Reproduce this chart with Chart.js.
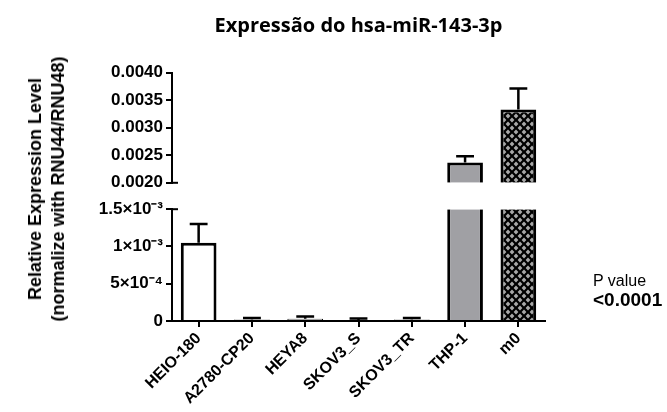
<!DOCTYPE html>
<html>
<head>
<meta charset="utf-8">
<script src="https://cdn.jsdelivr.net/npm/chart.js@4.4.1/dist/chart.umd.min.js"></script>
<style>
  body { margin: 0; background: #fff; width: 667px; height: 412px; position: relative; overflow: hidden; font-family: "Liberation Sans", Arial, sans-serif; }
  canvas { position: absolute; left: 0; }
  #chart-top { top: 0; }
  #chart-bottom { top: 196px; }
  #y-title { position: absolute; left: 47px; top: 189px; transform: translate(-50%, -50%) rotate(-90deg);
    font-weight: bold; font-size: 18px; line-height: 23px; text-align: center; white-space: nowrap; color: #000; }
  #p-value { position: absolute; left: 593px; top: 272px; color: #000; white-space: nowrap; }
  #p-value .lbl { font-size: 16px; line-height: 18px; }
  #p-value .val { font-size: 19px; line-height: 20px; font-weight: bold; }
</style>
</head>
<body>
<canvas id="chart-top" width="667" height="196"></canvas>
<canvas id="chart-bottom" width="667" height="216"></canvas>
<div id="y-title">Relative Expression Level<br>(normalize with RNU44/RNU48)</div>
<div id="p-value"><div class="lbl">P value</div><div class="val">&lt;0.0001</div></div>

<script>
const categories = ["HEIO-180", "A2780-CP20", "HEYA8", "SKOV3_S", "SKOV3_TR", "THP-1", "m0"];
const means = [0.00105, 0.00002, 0.00003, 0.000015, 0.00002, 0.00237, 0.00333];
const errors = [0.00025, 0.00002, 0.00003, 0.00002, 0.00002, 0.00011, 0.00038];

// broken y axis: upper and lower segments
const upperRange = [0.002, 0.004];
const upperTicks = [0.002, 0.0025, 0.003, 0.0035, 0.004];
const upperTickLabels = ["0.0020", "0.0025", "0.0030", "0.0035", "0.0040"];
const lowerRange = [0, 0.0015];
const lowerTicks = [0, 0.0005, 0.001, 0.0015];
const lowerTickLabels = ["0", "5×10⁻⁴", "1×10⁻³", "1.5×10⁻³"];

// crosshatch fill for the last bar
function makeHatch() {
  const c = document.createElement("canvas");
  c.width = 8; c.height = 8;
  const g = c.getContext("2d");
  g.fillStyle = "#000";
  g.fillRect(0, 0, 8, 8);
  g.fillStyle = "#a8a8a8";
  [[4, 4], [0, 0], [8, 0], [0, 8], [8, 8]].forEach(([cx, cy]) => {
    g.beginPath();
    g.moveTo(cx, cy - 2.4); g.lineTo(cx + 2.4, cy); g.lineTo(cx, cy + 2.4); g.lineTo(cx - 2.4, cy);
    g.closePath(); g.fill();
  });
  return g.createPattern(c, "repeat");
}
const hatch = makeHatch();
const barFills = ["#ffffff", "#d0d0d0", "#d0d0d0", "#d0d0d0", "#d0d0d0", "#a0a0a4", hatch];

const tickFont = { family: "Liberation Sans", weight: "bold", size: 17 };

// upward error bars, only where the bar top lies inside this segment
const errorBars = {
  id: "errorBars",
  afterDatasetsDraw(chart) {
    const ctx = chart.ctx, y = chart.scales.y, meta = chart.getDatasetMeta(0);
    ctx.save();
    ctx.strokeStyle = "#000";
    ctx.lineWidth = 2.5;
    means.forEach((m, i) => {
      if (m < y.min || m > y.max) return;
      const bar = meta.data[i];
      const top = y.getPixelForValue(m + errors[i]);
      const half = bar.width * 0.25;
      ctx.beginPath();
      ctx.moveTo(bar.x, bar.y); ctx.lineTo(bar.x, top);
      ctx.moveTo(bar.x - half, top); ctx.lineTo(bar.x + half, top);
      ctx.stroke();
    });
    ctx.restore();
  }
};

// small stub to the right at the axis break
const breakStub = {
  id: "breakStub",
  afterDraw(chart, args, opts) {
    const ctx = chart.ctx, a = chart.chartArea;
    const yy = opts.side === "bottom" ? a.bottom : a.top;
    ctx.save();
    ctx.strokeStyle = "#000"; ctx.lineWidth = 2;
    ctx.beginPath(); ctx.moveTo(a.left - 1, yy); ctx.lineTo(a.left + 6, yy); ctx.stroke();
    ctx.restore();
  }
};

function yAxis(range, ticks, labels) {
  return {
    min: range[0],
    max: range[1],
    afterBuildTicks: s => { s.ticks = ticks.map(v => ({ value: v })); },
    afterFit: s => { s.width = 172; },
    border: { display: true, color: "#000", width: 2 },
    grid: { display: true, drawOnChartArea: false, drawTicks: true, tickLength: 6, color: "#000", lineWidth: 2 },
    ticks: { color: "#000", padding: 3, font: tickFont, callback: (v, i) => labels[i] }
  };
}

// upper segment
new Chart(document.getElementById("chart-top"), {
  type: "bar",
  data: {
    labels: categories,
    datasets: [{
      data: means.map(v => (v > upperRange[0] ? [upperRange[0], v] : null)),
      backgroundColor: barFills,
      borderColor: "#000",
      borderWidth: { left: 3, right: 3, top: 3, bottom: 0 },
      borderSkipped: false,
      categoryPercentage: 1,
      barPercentage: 0.67
    }]
  },
  options: {
    responsive: false,
    animation: false,
    layout: { padding: { left: 0, right: 122, top: 0, bottom: 9 } },
    plugins: {
      legend: { display: false },
      tooltip: { enabled: false },
      breakStub: { side: "bottom" },
      title: {
        display: true,
        text: "Expressão do hsa-miR-143-3p",
        fullSize: false,
        color: "#000",
        font: { family: "Open Sans", weight: "bold", size: 20 },
        padding: { top: 14, bottom: 34.6 }
      }
    },
    scales: {
      x: { display: false, offset: true },
      y: yAxis(upperRange, upperTicks, upperTickLabels)
    }
  },
  plugins: [errorBars, breakStub]
});

// lower segment
new Chart(document.getElementById("chart-bottom"), {
  type: "bar",
  data: {
    labels: categories,
    datasets: [{
      data: means.map(v => Math.min(v, lowerRange[1])),
      backgroundColor: barFills,
      borderColor: "#000",
      borderWidth: c => {
        const v = means[c.dataIndex];
        if (v < 0.0001) return { left: 1, right: 1, top: 1, bottom: 0 };
        return v > lowerRange[1] ? { left: 3, right: 3, top: 0, bottom: 0 } : { left: 3, right: 3, top: 3, bottom: 0 };
      },
      borderSkipped: false,
      categoryPercentage: 1,
      barPercentage: 0.67
    }]
  },
  options: {
    responsive: false,
    animation: false,
    layout: { padding: { left: 0, right: 122, top: 9, bottom: 0 } },
    plugins: {
      legend: { display: false },
      tooltip: { enabled: false },
      breakStub: { side: "top" }
    },
    scales: {
      x: {
        offset: true,
        afterFit: s => { s.height = 91; },
        border: { display: true, color: "#000", width: 2 },
        grid: { display: true, offset: false, drawOnChartArea: false, tickLength: 6, color: "#000", lineWidth: 2 },
        ticks: { color: "#000", minRotation: 45, maxRotation: 45, padding: 2, font: { family: "Liberation Sans", weight: "bold", size: 16 } }
      },
      y: yAxis(lowerRange, lowerTicks, lowerTickLabels)
    }
  },
  plugins: [errorBars, breakStub]
});
</script>
</body>
</html>
